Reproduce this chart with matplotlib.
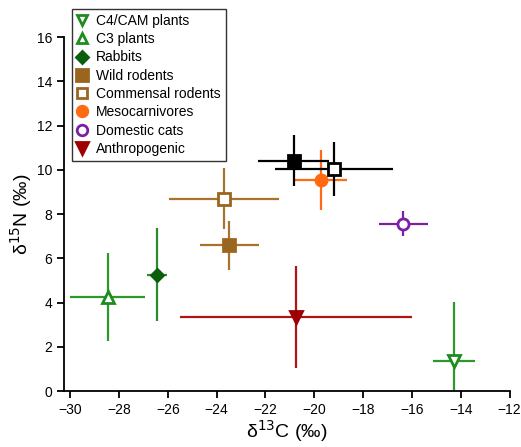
import matplotlib
matplotlib.use('Agg')
import matplotlib.pyplot as plt
from matplotlib.lines import Line2D

plt.rcParams['font.family'] = ['Liberation Sans', 'DejaVu Sans']

# group name, d13C, d13C err, d15N, d15N err
groups = ['C4/CAM plants', 'C3 plants', 'Rabbits', 'Wild rodents', 'Commensal rodents',
          'Mesocarnivores', 'Domestic cats', 'Anthropogenic', 'Black filled', 'Black open']
d13c = [-14.27, -28.47, -26.44, -23.48, -23.70, -19.74, -16.35, -20.74, -20.84, -19.19]
d13c_err = [0.85, 1.55, 0.40, 1.20, 2.25, 1.10, 1.00, 4.75, 1.45, 2.42]
d15n = [1.35, 4.26, 5.26, 6.59, 8.70, 9.54, 7.57, 3.35, 10.42, 10.04]
d15n_err = [2.70, 2.00, 2.10, 1.10, 1.39, 1.37, 0.55, 2.30, 1.17, 1.22]

markers = ['v', '^', 'D', 's', 's', 'o', 'o', 'v', 's', 's']
mcolors = ['#1e8c1e', '#1e8c1e', '#0b5e0b', '#9a661f', '#9a661f', '#ff6a13', '#7a1fa8', '#9c0000', 'black', 'black']
ecolors = ['#2b9a2b', '#2b9a2b', '#2b8a2b', '#a8732c', '#a8732c', '#ff6a13', '#7a1fa8', '#b01515', 'black', 'black']
filled = [False, False, True, True, False, True, False, True, True, False]
msizes = [8, 8, 6.5, 8.5, 8, 8, 8, 9, 9, 8.5]
in_legend = [True] * 8 + [False] * 2

fig = plt.figure(figsize=(5.21, 4.47), dpi=100)
ax = fig.add_axes([0.123, 0.125, 0.855, 0.792])

for i in range(len(groups)):
    ax.errorbar(d13c[i], d15n[i], xerr=d13c_err[i], yerr=d15n_err[i],
                fmt='none', ecolor=ecolors[i], elinewidth=1.6, capsize=0, zorder=2)
    ax.plot(d13c[i], d15n[i], marker=markers[i], ms=msizes[i], ls='none',
            mfc=mcolors[i] if filled[i] else 'white', mec=mcolors[i], mew=2, zorder=3)

ax.set_xlim(-30.25, -12)
ax.set_ylim(0, 16)
ax.set_xticks(range(-30, -11, 2))
ax.set_yticks(range(0, 17, 2))
ax.spines['top'].set_visible(False)
ax.spines['right'].set_visible(False)
ax.spines['left'].set_linewidth(1.3)
ax.spines['bottom'].set_linewidth(1.3)
ax.tick_params(direction='out', length=5, width=1.3, labelsize=10)
ax.set_xlabel('δ$^{13}$C (‰)', fontsize=14, labelpad=1)
ax.set_ylabel('δ$^{15}$N (‰)', fontsize=14)
ax.yaxis.set_label_coords(-0.068, 0.5)

handles = []
for i in range(len(groups)):
    if in_legend[i]:
        handles.append(Line2D([], [], marker=markers[i], ls='none', ms=msizes[i] * 0.95,
                              mfc=mcolors[i] if filled[i] else 'white', mec=mcolors[i], mew=2,
                              label=groups[i]))
leg = ax.legend(handles=handles, loc='upper left', bbox_to_anchor=(0.138, 0.98),
                bbox_transform=fig.transFigure, frameon=True, fancybox=False,
                edgecolor='black', fontsize=10, handlelength=0.8, handletextpad=0.6,
                labelspacing=0.31, borderpad=0.35, borderaxespad=0)
leg.get_frame().set_linewidth(1.0)

fig.savefig('out.png', dpi=100)
